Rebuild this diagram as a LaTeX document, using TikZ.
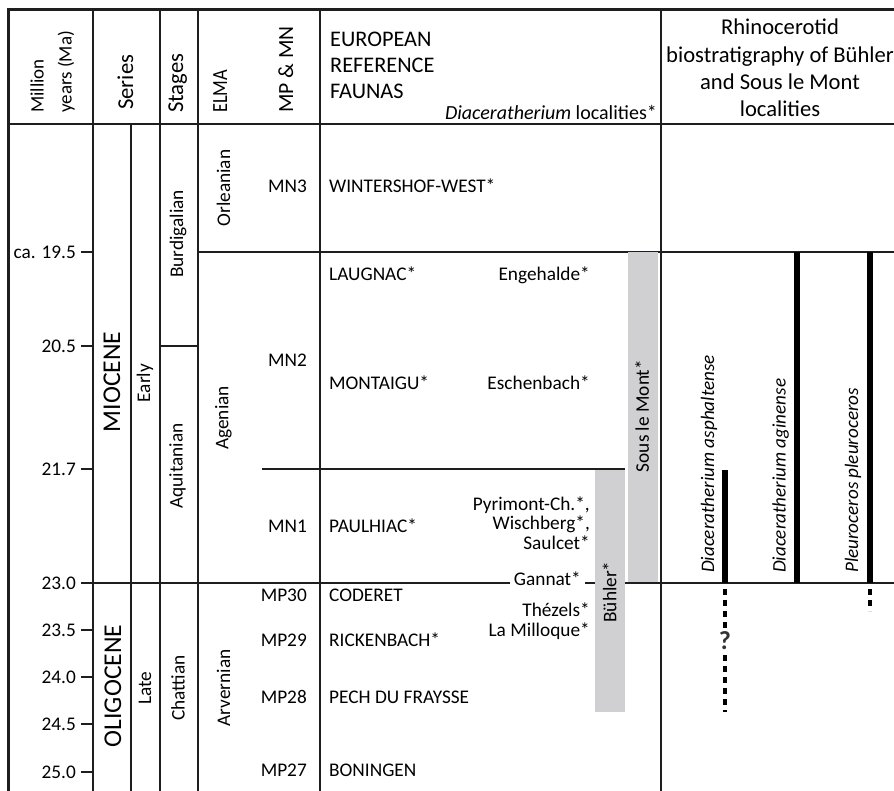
\documentclass[tikz,border=0pt]{standalone}
\usepackage{fontspec}
\setmainfont{Carlito}
\definecolor{barGray}{RGB}{208,208,210}
\definecolor{lineCol}{RGB}{30,30,30}
\begin{document}
\begin{tikzpicture}[x=1pt,y=-1pt,
  font=\fontsize{19.3}{23}\selectfont,
  frameline/.style={line width=3pt, draw=lineCol},
  gridline/.style={line width=1.4pt, draw=lineCol},
  boldgrid/.style={line width=2pt, draw=lineCol},
  txt/.style={inner sep=0pt, text height=12.4pt, text depth=0pt},
  basetxt/.style={inner sep=0pt},
  rotlbl/.style={inner sep=0pt, rotate=90},
  hdrrot/.style={inner sep=0pt, rotate=90, anchor=base west},
  bigrot/.style={inner sep=0pt, rotate=90, font=\fontsize{25.6}{30}\selectfont},
  taxonlbl/.style={inner sep=0pt, rotate=90, anchor=base west, font=\fontsize{19.1}{23}\selectfont\itshape},
  hdrfont/.style={font=\fontsize{22.3}{26}\selectfont},
  rhfont/.style={font=\fontsize{22.6}{26}\selectfont},
  graybar/.style={fill=barGray, draw=none},
  taxonbar/.style={line width=5.8pt, draw=black},
  taxondash/.style={line width=3.6pt, draw=black, dash pattern=on 6pt off 5pt},
]
\useasboundingbox (0,0) rectangle (894,791);

% ---- horizontal rules (drawn first, bars go over them)
\draw[gridline] (8,124) -- (900,124);
\draw[gridline] (160,346) -- (198,346);
\draw[gridline] (198,252) -- (900,252);
\draw[gridline] (262,469) -- (625,469);
\draw[gridline] (81,583) -- (900,583);

% ---- ticks
\foreach \yy in {252,346,469,630,677,724,772}{
  \draw[gridline] (81,\yy) -- (93,\yy);
}

% ---- vertical rules
\draw[gridline] (93,10) -- (93,791);
\draw[gridline] (131,124) -- (131,791);
\draw[gridline] (160,10) -- (160,791);
\draw[gridline] (198,10) -- (198,791);
\draw[boldgrid] (320,10) -- (320,791);
\draw[boldgrid] (661,10) -- (661,791);

% ---- frame
\draw[frameline] (8,791) -- (8,10) -- (900,10);

% ---- header
\node[hdrrot, font=\fontsize{19}{23}\selectfont] (hMillion) at (43.5,113) {Million};
\node[hdrrot, font=\fontsize{19}{23}\selectfont] (hYears) at (71.5,113) {years (Ma)};
\node[hdrrot, font=\fontsize{22.7}{26}\selectfont] (hSeries) at (133,110) {Series};
\node[hdrrot, font=\fontsize{22.7}{26}\selectfont] (hStages) at (183,113) {Stages};
\node[hdrrot, font=\fontsize{21.6}{26}\selectfont] (hElma) at (227,113) {\scalebox{0.85}[1]{ELMA}};
\node[hdrrot, font=\fontsize{21.6}{26}\selectfont] (hMpmn) at (293,113) {MP \& MN};
\node[basetxt, hdrfont, anchor=base west] (hEuro1) at (330,46.7) {EUROPEAN};
\node[basetxt, hdrfont, anchor=base west] (hEuro2) at (330,72.5) {REFERENCE};
\node[basetxt, hdrfont, anchor=base west] (hEuro3) at (330,98.3) {FAUNAS};
\node[basetxt, anchor=base east, font=\fontsize{20}{24}\selectfont] (hDiac) at (657,119.5) {\textit{Diaceratherium} localities*};
\node[basetxt, rhfont, anchor=base] (hRhino1) at (780,35) {Rhinocerotid};
\node[basetxt, rhfont, anchor=base] (hRhino2) at (780,62.5) {biostratigraphy of Bühler};
\node[basetxt, rhfont, anchor=base] (hRhino3) at (780,90) {and Sous le Mont};
\node[basetxt, rhfont, anchor=base] (hRhino4) at (780,117) {localities};

% ---- time axis labels
\node[txt, anchor=east] (t195) at (76,252) {ca. 19.5};
\node[txt, anchor=east] (t205) at (76,346) {20.5};
\node[txt, anchor=east] (t217) at (76,469) {21.7};
\node[txt, anchor=east] (t230) at (76,583) {23.0};
\node[txt, anchor=east] (t235) at (76,630) {23.5};
\node[txt, anchor=east] (t240) at (76,677) {24.0};
\node[txt, anchor=east] (t245) at (76,724) {24.5};
\node[txt, anchor=east] (t250) at (76,772) {25.0};

% ---- series / stages / ELMA
\node[bigrot] (sMio) at (112,382) {MIOCENE};
\node[bigrot] (sOli) at (113,686) {OLIGOCENE};
\node[rotlbl] (sEarly) at (145,383) {Early};
\node[rotlbl] (sLate) at (145,688) {Late};
\node[rotlbl] (stBurd) at (178,234) {Burdigalian};
\node[rotlbl] (stAqui) at (177.5,466) {Aquitanian};
\node[rotlbl] (stChat) at (178,688) {Chattian};
\node[rotlbl] (eOrl) at (223.5,188) {Orleanian};
\node[rotlbl] (eAge) at (223.5,418) {Agenian};
\node[rotlbl] (eArv) at (223.5,688) {Arvernian};

% ---- MP & MN
\node[txt, anchor=east] (mn3) at (307,186.5) {MN3};
\node[txt, anchor=east] (mn2) at (307,360) {MN2};
\node[txt, anchor=east] (mn1) at (307,526.5) {MN1};
\node[txt, anchor=east] (mp30) at (307,595) {MP30};
\node[txt, anchor=east] (mp29) at (307,640) {MP29};
\node[txt, anchor=east] (mp28) at (307,697.5) {MP28};
\node[txt, anchor=east] (mp27) at (307,770) {MP27};

% ---- reference faunas
\node[txt, anchor=west] (fWint) at (329,186.5) {WINTERSHOF-WEST*};
\node[txt, anchor=west] (fLaug) at (329,274.5) {LAUGNAC*};
\node[txt, anchor=west] (fMont) at (329,383.5) {MONTAIGU*};
\node[txt, anchor=west] (fPaul) at (329,526.5) {PAULHIAC*};
\node[txt, anchor=west] (fCod) at (329,595) {CODERET};
\node[txt, anchor=west] (fRick) at (329,640) {RICKENBACH*};
\node[txt, anchor=west] (fPech) at (329,697.5) {PECH DU FRAYSSE};
\node[txt, anchor=west] (fBon) at (329,770) {BONINGEN};

% ---- Diaceratherium localities
\node[txt, anchor=east] (lEng) at (590,274.5) {Engehalde*};
\node[txt, anchor=east] (lEsch) at (590,383.5) {Eschenbach*};
\node[txt, anchor=east] (lPyr) at (590,504.5) {Pyrimont-Ch.*,};
\node[txt, anchor=east] (lWis) at (590,523.5) {Wischberg*,};
\node[txt, anchor=east] (lSau) at (590,543.5) {Saulcet*};
\node[txt, anchor=east, fill=white, inner xsep=4pt, inner ysep=1pt] (lGan) at (585,579.5) {Gannat*};
\node[txt, anchor=east] (lThe) at (590,610) {Thézels*};
\node[txt, anchor=east] (lMil) at (590,630.5) {La Milloque*};

% ---- locality bars
\fill[graybar] (595,470) rectangle (625,712);
\fill[graybar] (628,252) rectangle (658,582);
\node[rotlbl] (bBuhler) at (609.5,592) {Bühler*};
\node[rotlbl] (bSous) at (642,416) {Sous le Mont*};

% ---- taxon ranges
\coordinate (aspTop) at (725,470);
\coordinate (aspBot) at (725,583);
\coordinate (aspDashA) at (725,589);
\coordinate (aspDashB) at (725,712);
\coordinate (agiTop) at (797,252);
\coordinate (agiBot) at (797,583);
\coordinate (pleTop) at (870,252);
\coordinate (pleBot) at (870,583);
\coordinate (pleDashA) at (870,589);
\coordinate (pleDashB) at (870,611);
\draw[taxonbar] (aspTop) -- (aspBot);
\draw[taxonbar] (agiTop) -- (agiBot);
\draw[taxonbar] (pleTop) -- (pleBot);
\draw[taxondash] (aspDashA) -- (aspDashB);
\draw[taxondash] (pleDashA) -- (pleDashB);
\node[fill=white, inner sep=2pt, font=\fontsize{26}{30}\selectfont\bfseries, text=black!80] (qmark) at (725,641) {?};

\node[taxonlbl] (nAsp) at (714,573) {Diaceratherium asphaltense};
\node[taxonlbl] (nAgi) at (785.5,573) {Diaceratherium aginense};
\node[taxonlbl] (nPle) at (858,573) {Pleuroceros pleuroceros};
\end{tikzpicture}
\end{document}
